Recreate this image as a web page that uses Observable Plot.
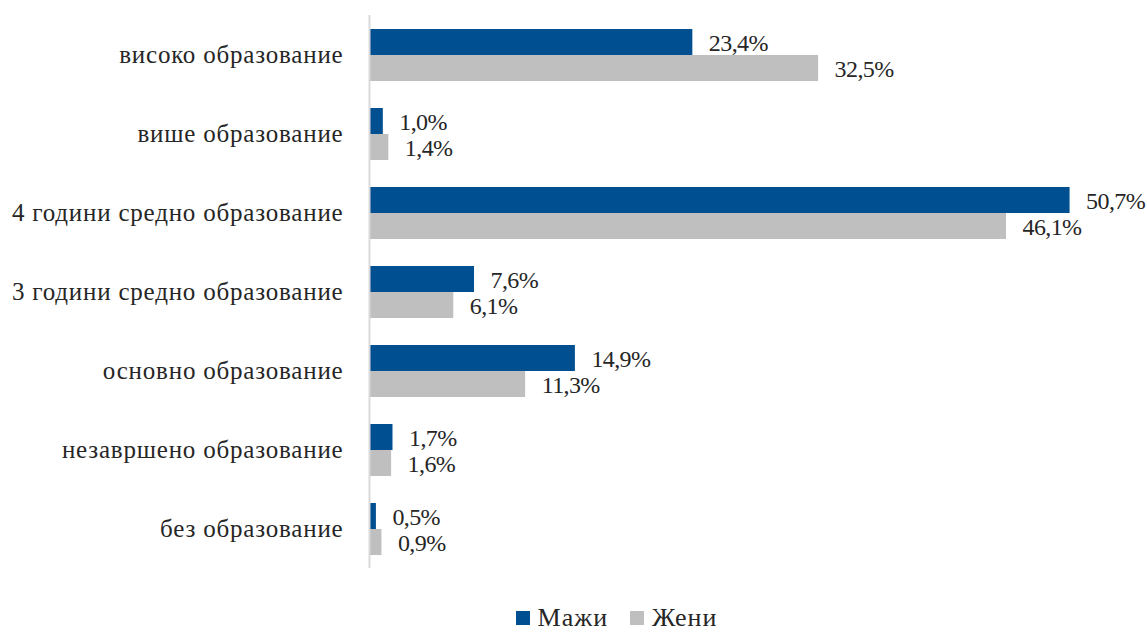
<!DOCTYPE html>
<html>
<head>
<meta charset="utf-8">
<script src="https://cdn.jsdelivr.net/npm/d3@7"></script>
<script src="https://cdn.jsdelivr.net/npm/@observablehq/plot@0.6"></script>
<style>
  html, body { margin: 0; padding: 0; background: #fff; }
  #chart { width: 1147px; }
  .legend { display: flex; justify-content: center; align-items: center; height: 30px; line-height: 30px; padding-left: 86px; margin-top: 13px;
    font-family: "Liberation Serif", serif; font-size: 26px; letter-spacing: 1px; color: #262626; }
  .legend .item { display: flex; align-items: center; margin: 0 11px; }
  .legend .sw { width: 14px; height: 14px; margin-right: 8px; }
  g[aria-label="fy-axis tick label"] text { letter-spacing: 0.8px; }
</style>
</head>
<body>
<div id="chart"></div>
<script>
const categories = [
  "високо образование",
  "више образование",
  "4 години средно образование",
  "3 години средно образование",
  "основно образование",
  "незавршено образование",
  "без образование"
];
const series = ["Мажи", "Жени"];
const men = [23.4, 1.0, 50.7, 7.6, 14.9, 1.7, 0.5];
const women = [32.5, 1.4, 46.1, 6.1, 11.3, 1.6, 0.9];
const colors = ["#004F91", "#BFBFBF"];

const data = [];
categories.forEach((c, i) => {
  data.push({category: c, series: series[0], value: men[i]});
  data.push({category: c, series: series[1], value: women[i]});
});
const fmt = v => d3.format(".1f")(v).replace(".", ",") + "%";
const font = "Liberation Serif";

const plot = Plot.plot({
  width: 1147,
  height: 590,
  marginTop: 15,
  marginBottom: 22,
  marginLeft: 369,
  marginRight: 18,
  style: {fontFamily: font, fontSize: "25px", color: "#262626", background: "#fff"},
  x: {domain: [0, 55], axis: null},
  fy: {domain: categories, padding: 0, label: null, tickSize: 0, tickPadding: 26},
  y: {domain: series, axis: null, paddingInner: 0, paddingOuter: 0.463},
  color: {domain: series, range: colors},
  marks: [
    Plot.barX(data, {fy: "category", y: "series", x: "value", fill: "series"}),
    Plot.text(data, {fy: "category", y: "series", x: "value", text: d => fmt(d.value),
      textAnchor: "start", dx: 16, dy: 1, fill: "#262626", fontSize: 24}),
    Plot.ruleX([0], {stroke: "#D9D9D9", strokeWidth: 2})
  ]
});
plot.querySelectorAll('g[aria-label="text"] text').forEach(t => t.style.letterSpacing = "-0.6px");
document.getElementById("chart").appendChild(plot);

const legend = document.createElement("div");
legend.className = "legend";
series.forEach((s, i) => {
  const item = document.createElement("div");
  item.className = "item";
  const sw = document.createElement("div");
  sw.className = "sw";
  sw.style.background = colors[i];
  const t = document.createElement("span");
  t.textContent = s;
  item.appendChild(sw);
  item.appendChild(t);
  legend.appendChild(item);
});
document.getElementById("chart").appendChild(legend);
</script>
</body>
</html>
